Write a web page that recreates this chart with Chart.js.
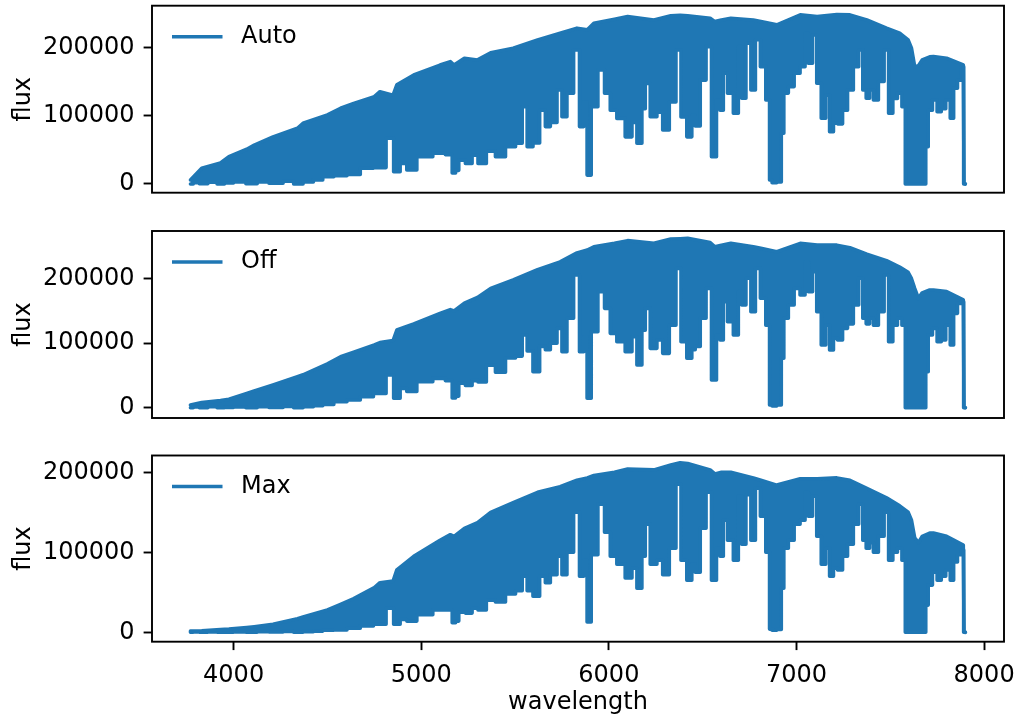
<!DOCTYPE html>
<html lang="en">
<head>
  <meta charset="UTF-8" />
  <title>flux vs wavelength</title>
  <script src="https://cdn.jsdelivr.net/npm/chart.js@4.4.0/dist/chart.umd.min.js"></script>
  <style>
    body { margin: 0; background: #fff; overflow: hidden; }
    canvas { position: absolute; left: 0; }
  </style>
</head>
<body>
  <canvas id="panelAuto" width="1018" height="200" style="top:0px"></canvas>
  <canvas id="panelOff" width="1018" height="215" style="top:215px"></canvas>
  <canvas id="panelMax" width="1018" height="275" style="top:440px"></canvas>

  <script>
    // upper edge of the spectrum (continuum)
    const topWave = [3770, 3830, 3930, 3975, 4070, 4110, 4210, 4340, 4370, 4500,
      4570, 4640, 4750, 4780, 4850, 4870, 4960, 5100, 5155, 5175,
      5230, 5300, 5370, 5490, 5620, 5740, 5830, 5885, 5920, 6030,
      6100, 6240, 6330, 6380, 6420, 6540, 6565, 6600, 6650, 6770,
      6810, 6895, 7020, 7110, 7215, 7285, 7375, 7480, 7550, 7595,
      7613, 7630, 7650, 7670, 7710, 7730, 7800, 7889, 7893, 7900];
    const autoTop = [6000, 23000, 30700, 40000, 50800, 57000, 69000, 81500, 88800, 101000,
      110800, 118000, 127800, 135000, 130000, 145000, 159500, 174000, 179000, 174000,
      184000, 181500, 192000, 198600, 210800, 220600, 228000, 225500, 235000, 241000,
      245000, 240000, 246000, 247000, 246000, 242500, 237600, 240000, 242500, 240000,
      237600, 232800, 247400, 245000, 248000, 247400, 240000, 228000, 220600, 210800,
      198600, 171700, 173000, 181500, 186000, 186400, 184000, 174200, 1500, 0];
    const offTop = [4000, 8000, 11000, 13000, 22000, 26000, 35200, 48000, 51000, 68000,
      79000, 86000, 97200, 101000, 104000, 120400, 130000, 146000, 152000, 150000,
      162000, 171000, 185000, 198000, 214000, 226000, 240000, 244400, 249500, 254800,
      259000, 255000, 261500, 262000, 262600, 256000, 249500, 252000, 254800, 249500,
      247000, 241800, 254800, 252000, 252000, 248000, 238000, 228000, 218000, 210000,
      200000, 185000, 169600, 178000, 182400, 182400, 180000, 167000, 1500, 0];
    const maxTop = [1500, 2000, 3500, 4000, 6000, 7000, 10000, 17000, 19000, 28000,
      35000, 42000, 56000, 62000, 64000, 78000, 95000, 115000, 122000, 120000,
      130000, 137000, 150000, 162000, 175000, 182000, 190000, 193000, 196000, 200000,
      204000, 203000, 209000, 212000, 211000, 203000, 198000, 200000, 200000, 193000,
      190000, 184000, 192000, 192000, 193000, 190000, 180000, 168000, 158000, 150000,
      140000, 118000, 112000, 120000, 124000, 124000, 120000, 109000, 1500, 0];

    // lower edge: bottoms of the absorption lines and bands
    const lowWave = [3770, 3800, 3835, 3890, 3934, 3968, 4030, 4101, 4150, 4227,
      4300, 4340, 4400, 4450, 4500, 4568, 4640, 4710, 4780, 4845,
      4861, 4914, 4932, 5021, 5102, 5155, 5175, 5191, 5209, 5262,
      5280, 5325, 5369, 5422, 5476, 5529, 5547, 5582, 5609, 5653,
      5670, 5706, 5741, 5759, 5794, 5830, 5857, 5875, 5893, 5919,
      5964, 5990, 6025, 6060, 6114, 6132, 6167, 6185, 6203, 6238,
      6274, 6300, 6344, 6371, 6398, 6433, 6451, 6469, 6505, 6531,
      6563, 6584, 6601, 6619, 6646, 6681, 6699, 6717, 6744, 6770,
      6792, 6823, 6850, 6863, 6877, 6912, 6926, 6939, 6974, 7001,
      7037, 7054, 7072, 7099, 7117, 7147, 7165, 7188, 7206, 7232,
      7259, 7285, 7321, 7342, 7365, 7378, 7401, 7419, 7454, 7480,
      7502, 7525, 7551, 7573, 7587, 7685, 7693, 7711, 7738, 7761,
      7782, 7809, 7830, 7845, 7871, 7889, 7893, 7900];
    const autoLow = [0, 2000, 500, 2500, 0, 1500, 3000, 500, 3000, 1000,
      4000, 0, 3000, 6000, 10700, 12000, 14000, 23000, 24000, 67000,
      18000, 30000, 20500, 40000, 45000, 43000, 16000, 20000, 35000, 30000,
      42000, 30000, 48000, 40000, 54600, 59700, 113000, 54600, 60000, 108000,
      84000, 90000, 137600, 98500, 132800, 196000, 84000, 120000, 13000, 113000,
      167000, 132800, 108000, 96000, 69000, 90000, 59600, 110000, 147000, 98500,
      105000, 79000, 120000, 196000, 98000, 69000, 100000, 85000, 152000, 201000,
      40000, 123000, 108000, 162000, 132800, 103500, 201000, 125500, 206000, 137600,
      211000, 171700, 123000, 5900, 2000, 3000, 74200, 133000, 142500, 162000,
      171700, 220600, 176700, 218000, 147400, 96200, 130000, 76600, 88800, 88000,
      108000, 137600, 171700, 196000, 137600, 125500, 137600, 123000, 150000, 196000,
      103500, 125000, 132800, 113000, 0, 0, 54600, 108000, 123000, 105800,
      110000, 123000, 96200, 140000, 152000, 171700, 0, 0];
    const offLow = [0, 1000, 0, 1500, 0, 500, 1000, 0, 1500, 500,
      2000, 0, 1500, 3000, 5000, 9300, 12000, 17000, 22000, 50700,
      14600, 30000, 25000, 40300, 45500, 42000, 15000, 18000, 38000, 34500,
      42000, 40000, 66000, 55000, 77000, 80000, 112700, 88000, 55800, 95000,
      90000, 100000, 123000, 86800, 138600, 205700, 86800, 110000, 14600, 117800,
      179800, 154000, 115300, 102300, 86800, 110000, 66200, 120000, 154000, 92000,
      105000, 84300, 128000, 216000, 102300, 76600, 90000, 95000, 138600, 185000,
      43000, 112700, 105000, 164300, 133300, 112700, 180000, 159200, 200600, 148800,
      216000, 169600, 128000, 4200, 2600, 4200, 76600, 138600, 159200, 185000,
      174700, 226300, 179800, 210800, 148800, 97200, 128000, 89400, 107500, 105000,
      123000, 130000, 159200, 200600, 138600, 130000, 138600, 128000, 148800, 205700,
      102300, 128000, 138600, 128000, 0, 0, 55800, 112700, 123000, 102300,
      105000, 128000, 97200, 146300, 161800, 164300, 0, 0];
    const maxLow = [0, 300, 0, 500, 0, 200, 500, 0, 800, 300,
      1000, 0, 800, 1500, 2500, 3000, 5000, 8000, 10000, 30000,
      10000, 16000, 14000, 22000, 28000, 28000, 12000, 14000, 25000, 24000,
      30000, 28000, 40000, 38000, 48000, 52000, 70000, 52000, 45000, 70000,
      62000, 72000, 95000, 72000, 100000, 150000, 70000, 90000, 13000, 97000,
      160000, 125000, 95000, 85000, 68000, 80000, 55000, 95000, 135000, 85000,
      90000, 72000, 105000, 185000, 90000, 65000, 85000, 75000, 130000, 175000,
      65000, 105000, 95000, 140000, 115000, 90000, 170000, 110000, 172000, 115000,
      180000, 145000, 100000, 4000, 2500, 3500, 55000, 105000, 115000, 135000,
      140000, 175000, 145000, 170000, 120000, 85000, 105000, 70000, 80000, 78000,
      95000, 110000, 135000, 160000, 115000, 105000, 112000, 100000, 120000, 150000,
      90000, 100000, 105000, 90000, 0, 0, 34000, 59000, 75000, 65000,
      70000, 78000, 65000, 88000, 97000, 103000, 0, 0];

    const xTicks = [4000, 5000, 6000, 7000, 8000];
    const yTicks = [0, 100000, 200000];

    const blue = "#1f77b4";
    Chart.defaults.font.family = '"DejaVu Sans", sans-serif';
    Chart.defaults.font.size = 24;
    Chart.defaults.color = "#000";

    // box round the axes and a matplotlib-like legend inside the top left corner
    const frameLegend = {
      id: "frameLegend",
      afterDraw(chart) {
        const { ctx, chartArea: a } = chart;
        ctx.save();
        ctx.strokeStyle = "#000";
        ctx.lineWidth = 1.9;
        ctx.strokeRect(a.left, a.top, a.right - a.left, a.bottom - a.top);
        const y = a.top + 31;
        ctx.strokeStyle = blue;
        ctx.lineWidth = 3.6;
        ctx.beginPath();
        ctx.moveTo(a.left + 20, y);
        ctx.lineTo(a.left + 70.5, y);
        ctx.stroke();
        ctx.fillStyle = "#000";
        ctx.font = '24px "DejaVu Sans"';
        ctx.textBaseline = "middle";
        ctx.fillText(chart.data.datasets[0].label, a.left + 89, y);
        ctx.restore();
      }
    };

    function toPoints(xs, ys) {
      return xs.map((x, i) => ({ x: x, y: ys[i] }));
    }

    function makePanel(id, label, top, low, yMin, yMax, padTop, padBottom, showX) {
      new Chart(document.getElementById(id), {
        type: "line",
        data: {
          datasets: [
            { label: label, data: toPoints(topWave, top), borderColor: blue, fill: false },
            // line bottoms are held flat between samples, so each line is a narrow vertical notch
            { label: label, data: toPoints(lowWave, low), borderColor: blue, backgroundColor: blue, fill: "-1", stepped: "middle" }
          ]
        },
        options: {
          responsive: false,
          animation: false,
          events: [],
          layout: { padding: { top: padTop, bottom: padBottom, left: 0, right: 14 } },
          elements: {
            point: { radius: 0 },
            line: { tension: 0, borderWidth: 3.6, borderJoinStyle: "round", borderCapStyle: "round" }
          },
          plugins: { legend: { display: false }, tooltip: { enabled: false } },
          scales: {
            x: {
              type: "linear",
              min: 3565,
              max: 8106,
              display: showX,
              afterBuildTicks: s => { s.ticks = xTicks.map(v => ({ value: v })); },
              afterFit: s => {
                if (showX) s.height = 73.3;
                s.paddingLeft = 0;
                s.paddingRight = 0;
              },
              ticks: { padding: 11, maxRotation: 0, autoSkip: false, callback: v => String(v) },
              grid: { drawOnChartArea: false, tickLength: 8.4, tickWidth: 1.9, tickColor: "#000" },
              border: { display: false },
              title: { display: true, text: "wavelength", padding: { top: 0, bottom: -2 } }
            },
            y: {
              type: "linear",
              min: yMin,
              max: yMax,
              afterBuildTicks: s => { s.ticks = yTicks.map(v => ({ value: v })); },
              afterFit: s => {
                s.width = 152;
                s.paddingTop = 0;
                s.paddingBottom = 0;
              },
              ticks: { padding: 9, callback: v => String(v) },
              grid: { drawOnChartArea: false, tickLength: 8.4, tickWidth: 1.9, tickColor: "#000" },
              border: { display: false },
              title: { display: true, text: "flux", padding: { top: 9, bottom: 0 } }
            }
          }
        },
        plugins: [frameLegend]
      });
    }

    makePanel("panelAuto", "Auto", autoTop, autoLow, -12730, 260870, 5.7, 7.3, false);
    makePanel("panelOff", "Off", offTop, offLow, -15970, 273950, 16, 12, false);
    makePanel("panelMax", "Max", maxTop, maxLow, -11750, 221000, 15.5, 0, true);
  </script>
</body>
</html>
